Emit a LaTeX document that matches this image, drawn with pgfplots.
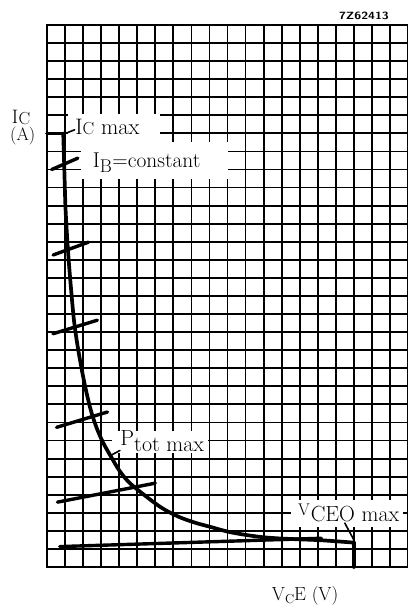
\documentclass[border=0pt]{standalone}
\usepackage{pgfplots}
\pgfplotsset{compat=1.18}
\usepackage{graphicx}
\begin{document}
\begin{tikzpicture}
\begin{axis}[
  width=361bp, height=542bp, scale only axis,
  xmin=0, xmax=20, ymin=0, ymax=30,
  xtick={0,1,...,20}, ytick={0,1,...,30},
  xticklabel=\empty, yticklabel=\empty,
  major tick length=0pt,
  grid=major,
  grid style={black, line width=1.8bp},
  axis line style={black, line width=2.5bp},
  clip=false,
  every axis plot/.append style={black, line cap=round, line join=round, mark=none},
]
\coordinate (SW) at (rel axis cs:0,0);
\coordinate (NE) at (rel axis cs:1,1);
% white backgrounds of the labels (interrupting the grid)
\fill[white] (axis cs:1.15,23.4) rectangle (axis cs:6.28,25.06);
\fill[white] (axis cs:1.91,21.45) rectangle (axis cs:10.0,23.55);
\fill[white] (axis cs:3.61,6.33) rectangle (axis cs:8.91,7.52);
\fill[white] (axis cs:13.54,2.24) rectangle (axis cs:19.7,3.72);

% I_C max segment
\addplot[line width=3.7bp] coordinates {(0,24) (0.9,24)};
% P_tot max curve
\addplot[line width=3.7bp, smooth, tension=0.5] coordinates {
 (0.9,24) (0.96,22) (1.02,20) (1.1,18.5) (1.2,17) (1.34,15.3) (1.5,13.6)
 (1.7,12.2) (1.95,10.8) (2.2,9.6) (2.45,8.6) (2.75,7.7) (3.1,6.9) (3.55,6.1)
 (4.0,5.35) (4.55,4.68) (5.46,3.93) (6.36,3.27) (7.27,2.79) (8.18,2.46)
 (9.09,2.21) (10.0,1.96) (10.98,1.78) (11.96,1.65) (12.9,1.58) (14.0,1.53)
 (15.2,1.48) (17,1.35)};
% V_CEO max
\addplot[line width=3.7bp] coordinates {(17,1.35) (17,0)};

% I_B = constant lines
\addplot[line width=3.4bp] coordinates {(0.26,22.0) (1.71,22.63)};
\addplot[line width=3.4bp] coordinates {(0.34,17.27) (2.30,17.98)};
\addplot[line width=3.4bp] coordinates {(0.33,12.91) (2.79,13.66)};
\addplot[line width=3.4bp] coordinates {(0.53,7.73) (3.35,8.58)};
\addplot[line width=3.4bp] coordinates {(0.58,3.59) (6.0,4.64)};
\addplot[line width=3.4bp] coordinates {(0.71,1.13) (15.2,1.59)};

% leaders
\addplot[line width=1.6bp] coordinates {(1.08,24.02) (1.53,24.2)};
\addplot[line width=1.6bp] coordinates {(3.54,6.18) (4.04,6.45)};
\addplot[line width=1.6bp] coordinates {(16.5,2.43) (17.0,1.5)};

% labels
\node[anchor=base west, inner sep=0, font=\fontsize{22.5}{26}\selectfont] at (axis cs:1.56,23.96)
  {I{\fontsize{17.5}{20}\selectfont C} max};
\node[anchor=base west, inner sep=0, font=\fontsize{21.5}{26}\selectfont] at (axis cs:2.53,22.1)
  {I\raisebox{-5bp}{\fontsize{18.5}{22}\selectfont B}\kern0.5bp=constant};
\node[anchor=base west, inner sep=0, font=\fontsize{22}{26}\selectfont] at (axis cs:4.06,6.38)
  {\raisebox{6bp}{P}tot max};
\node[anchor=base west, inner sep=0, font=\fontsize{22}{26}\selectfont] at (axis cs:13.9,2.5)
  {\raisebox{6.5bp}{\fontsize{17}{20}\selectfont V}\kern1bp CEO max};

\node[anchor=base west, inner sep=0, font=\fontsize{19.5}{23}\selectfont] at (axis cs:-1.96,24.56)
  {I\kern0.5bp\raisebox{-1bp}{\fontsize{17.5}{20}\selectfont C}};
\node[anchor=base west, inner sep=0, font=\fontsize{18}{22}\selectfont] at (axis cs:-2.05,23.59)
  {(A)};
\node[anchor=base west, inner sep=0, font=\fontsize{19}{23}\selectfont] at (axis cs:12.45,-1.83)
  {V\raisebox{-3.5bp}{\fontsize{13}{15}\selectfont C}E (V)};
\node[anchor=center, inner sep=0] at (axis cs:17.56,30.5)
  {\scalebox{1.2}[1]{\sffamily\bfseries\fontsize{10.5}{12}\selectfont 7Z62413}};
\end{axis}
\pgfresetboundingbox
\path[use as bounding box] ([xshift=-47bp,yshift=-38bp]SW) rectangle ([yshift=25bp]NE);
\end{tikzpicture}
\end{document}
